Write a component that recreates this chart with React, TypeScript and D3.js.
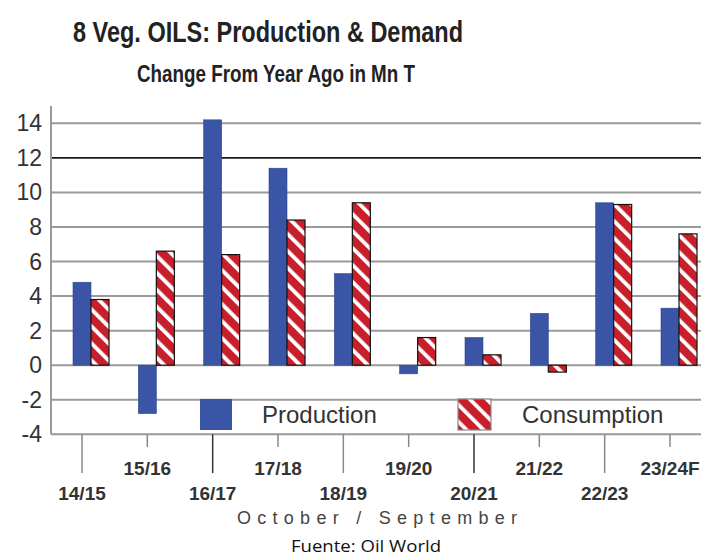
import React, { useEffect, useRef } from 'react';
import * as d3 from 'd3';

const categories = ['14/15', '15/16', '16/17', '17/18', '18/19', '19/20', '20/21', '21/22', '22/23', '23/24F'];
const production = [4.8, -2.8, 14.2, 11.4, 5.3, -0.5, 1.6, 3.0, 9.4, 3.3];
const consumption = [3.8, 6.6, 6.4, 8.4, 9.4, 1.6, 0.6, -0.4, 9.3, 7.6];
const seriesNames = ['Production', 'Consumption'];
const yTicks = [-4, -2, 0, 2, 4, 6, 8, 10, 12, 14];

const BLUE = '#3a55a5';
const RED = '#c8202a';
const FONT = '"Liberation Sans", Arial, Helvetica, sans-serif';

const App = () => {
  const svgRef = useRef(null);

  useEffect(() => {
    if (!svgRef.current) return;
    const width = 701;
    const height = 558;
    const left = 51;

    const svg = d3.select(svgRef.current);
    svg.selectAll('*').remove();
    svg.attr('width', width).attr('height', height);

    // hatch for consumption
    const defs = svg.append('defs');
    const pat = defs.append('pattern')
      .attr('id', 'hatch')
      .attr('patternUnits', 'userSpaceOnUse')
      .attr('width', 12)
      .attr('height', 12)
      .attr('patternTransform', 'rotate(-45)');
    pat.append('rect').attr('width', 12).attr('height', 12).attr('fill', RED);
    pat.append('rect').attr('width', 3.8).attr('height', 12).attr('fill', '#fff');

    const y = d3.scaleLinear().domain([-4, 14]).range([434.3, 123.3]);
    const x = d3.scalePoint().domain(categories).range([91, 679]);
    const xs = d3.scaleBand().domain(seriesNames).range([-18, 18]);
    const tickX = (c) => x(c) + xs('Production') + xs.bandwidth() / 2;

    // titles
    svg.append('text')
      .attr('x', 268).attr('y', 42)
      .attr('text-anchor', 'middle')
      .attr('font-family', FONT).attr('font-weight', 'bold').attr('font-size', 29)
      .attr('fill', '#222')
      .attr('textLength', 390).attr('lengthAdjust', 'spacingAndGlyphs')
      .text('8 Veg. OILS: Production & Demand');
    svg.append('text')
      .attr('x', 276).attr('y', 82)
      .attr('text-anchor', 'middle')
      .attr('font-family', FONT).attr('font-weight', 'bold').attr('font-size', 23)
      .attr('fill', '#222')
      .attr('textLength', 278).attr('lengthAdjust', 'spacingAndGlyphs')
      .text('Change From Year Ago in Mn T');

    // gridlines
    svg.append('g').selectAll('line')
      .data(yTicks)
      .enter()
      .append('line')
      .attr('x1', left).attr('x2', width)
      .attr('y1', d => y(d)).attr('y2', d => y(d))
      .attr('stroke', d => (d === 12 ? '#1a1a1a' : '#9a9a9a'))
      .attr('stroke-width', d => (d === 12 ? 1.8 : 2));

    // y axis line + labels
    svg.append('line')
      .attr('x1', left).attr('x2', left)
      .attr('y1', y(15)).attr('y2', y(-4))
      .attr('stroke', '#9a9a9a').attr('stroke-width', 2);

    svg.append('g').selectAll('text')
      .data(yTicks)
      .enter()
      .append('text')
      .attr('x', 42)
      .attr('y', d => y(d) + 8)
      .attr('text-anchor', 'end')
      .attr('font-family', FONT).attr('font-size', 23)
      .attr('fill', '#333')
      .text(d => String(d));

    // bars
    const g = svg.append('g');
    g.selectAll('rect.prod')
      .data(production)
      .enter()
      .append('rect')
      .attr('class', 'prod')
      .attr('x', (d, i) => x(categories[i]) + xs('Production'))
      .attr('width', xs.bandwidth())
      .attr('y', d => y(Math.max(0, d)))
      .attr('height', d => Math.abs(y(d) - y(0)))
      .attr('fill', BLUE)
      .attr('stroke', '#2e4690').attr('stroke-width', 0.6);

    g.selectAll('rect.cons')
      .data(consumption)
      .enter()
      .append('rect')
      .attr('class', 'cons')
      .attr('x', (d, i) => x(categories[i]) + xs('Consumption'))
      .attr('width', xs.bandwidth())
      .attr('y', d => y(Math.max(0, d)))
      .attr('height', d => Math.abs(y(d) - y(0)))
      .attr('fill', 'url(#hatch)')
      .attr('stroke', '#111').attr('stroke-width', 1.2);

    // category ticks, staggered labels
    svg.append('g').selectAll('line')
      .data(categories)
      .enter()
      .append('line')
      .attr('x1', d => tickX(d)).attr('x2', d => tickX(d))
      .attr('y1', y(-4))
      .attr('y2', (d, i) => (i % 2 === 0 ? 473 : 447))
      .attr('stroke', (d, i) => (i === 2 || i === 6 ? '#333' : '#888'))
      .attr('stroke-width', 1.5);

    svg.append('g').selectAll('text')
      .data(categories)
      .enter()
      .append('text')
      .attr('x', d => tickX(d))
      .attr('y', (d, i) => (i % 2 === 0 ? 500 : 475))
      .attr('text-anchor', 'middle')
      .attr('font-family', FONT).attr('font-weight', 'bold').attr('font-size', 19)
      .attr('fill', '#333')
      .text(d => d);

    svg.append('text')
      .attr('x', 377).attr('y', 524)
      .attr('text-anchor', 'middle')
      .attr('font-family', FONT).attr('font-size', 18)
      .attr('fill', '#444')
      .attr('textLength', 280).attr('lengthAdjust', 'spacing')
      .text('October / September');

    svg.append('text')
      .attr('x', 366).attr('y', 552)
      .attr('text-anchor', 'middle')
      .attr('font-family', '"Open Sans", "Noto Sans", sans-serif').attr('font-size', 16)
      .attr('fill', '#111')
      .attr('textLength', 150).attr('lengthAdjust', 'spacingAndGlyphs')
      .text('Fuente: Oil World');

    // legend
    const legend = svg.append('g');
    legend.append('rect')
      .attr('x', 200).attr('y', 399).attr('width', 32).attr('height', 31)
      .attr('fill', BLUE);
    legend.append('text')
      .attr('x', 262).attr('y', 423)
      .attr('font-family', FONT).attr('font-size', 24).attr('fill', '#333')
      .text(seriesNames[0]);
    legend.append('rect')
      .attr('x', 458).attr('y', 399).attr('width', 33).attr('height', 31)
      .attr('fill', 'url(#hatch)')
      .attr('stroke', '#888').attr('stroke-width', 1.2);
    legend.append('text')
      .attr('x', 522).attr('y', 423)
      .attr('font-family', FONT).attr('font-size', 24).attr('fill', '#333')
      .text(seriesNames[1]);
  }, []);

  return (
    <div style={{ position: 'absolute', left: 0, top: 0, background: 'white' }}>
      <svg ref={svgRef} style={{ display: 'block' }}></svg>
    </div>
  );
};

export default App;
